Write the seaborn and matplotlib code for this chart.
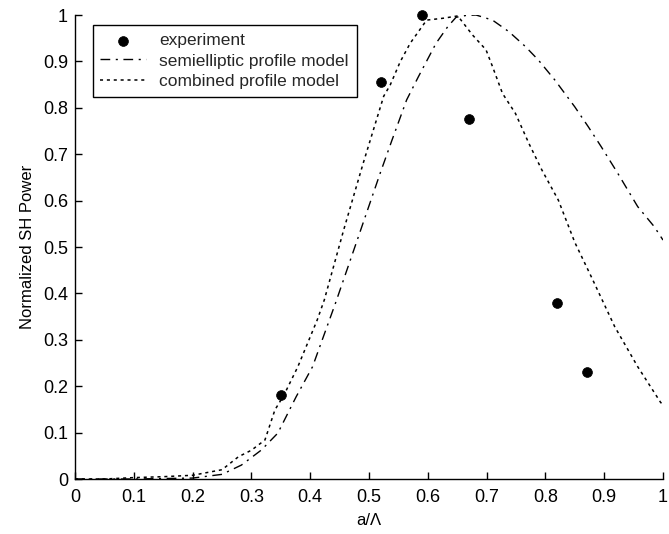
import matplotlib
matplotlib.use("Agg")
import matplotlib.pyplot as plt
import seaborn as sns

# Measured SH power
exp_x = [0.35, 0.52, 0.59, 0.67, 0.82, 0.87]
exp_y = [0.18, 0.855, 1.0, 0.775, 0.38, 0.23]

# Semielliptic profile model
semi_x = [0.0, 0.10, 0.20, 0.25, 0.283, 0.317, 0.345, 0.376, 0.404, 0.443, 0.48,
          0.519, 0.539, 0.564, 0.584, 0.614, 0.634, 0.648, 0.665, 0.682, 0.71,
          0.738, 0.766, 0.788, 0.816, 0.85, 0.873, 0.895, 0.923, 0.957, 0.985, 1.0]
semi_y = [0.0, 0.0, 0.002, 0.01, 0.03, 0.0625, 0.099, 0.177, 0.242, 0.379, 0.515,
          0.659, 0.73, 0.817, 0.867, 0.939, 0.975, 0.995, 0.999, 1.0, 0.989,
          0.964, 0.932, 0.903, 0.86, 0.802, 0.759, 0.716, 0.659, 0.587, 0.544, 0.515]

# Combined profile model
comb_x = [0.0, 0.05, 0.10, 0.15, 0.20, 0.25, 0.278, 0.30, 0.323, 0.34, 0.355, 0.379,
          0.412, 0.424, 0.457, 0.49, 0.525, 0.536, 0.553, 0.57, 0.598, 0.626,
          0.651, 0.676, 0.699, 0.71, 0.727, 0.749, 0.772, 0.794, 0.822, 0.85,
          0.878, 0.918, 0.957, 0.996, 1.0]
comb_y = [0.0, 0.0, 0.003, 0.005, 0.008, 0.02, 0.048, 0.062, 0.084, 0.149, 0.18, 0.242,
          0.343, 0.386, 0.537, 0.68, 0.825, 0.849, 0.899, 0.939, 0.989, 0.993,
          0.998, 0.957, 0.925, 0.889, 0.831, 0.788, 0.723, 0.666, 0.601, 0.51,
          0.436, 0.328, 0.242, 0.165, 0.16]

x_ticks = [0, 0.1, 0.2, 0.3, 0.4, 0.5, 0.6, 0.7, 0.8, 0.9, 1]
x_tick_labels = ["0", "0.1", "0.2", "0.3", "0.4", "0.5", "0.6", "0.7", "0.8", "0.9", "1"]
y_ticks = [0, 0.1, 0.2, 0.3, 0.4, 0.5, 0.6, 0.7, 0.8, 0.9, 1]
y_tick_labels = ["0", "0.1", "0.2", "0.3", "0.4", "0.5", "0.6", "0.7", "0.8", "0.9", "1"]

sns.set_theme(style="white")
plt.rcParams["font.family"] = ["Liberation Sans", "DejaVu Sans"]

fig = plt.figure(figsize=(6.69, 5.34), dpi=100)
ax = fig.add_axes([75 / 669, 1 - 479 / 534, 588 / 669, 464 / 534])

sns.scatterplot(x=exp_x, y=exp_y, ax=ax, color="black", s=50, edgecolor="black",
                linewidth=0.5, label="experiment", zorder=3, clip_on=False)
sns.lineplot(x=semi_x, y=semi_y, ax=ax, color="black", linewidth=1.0,
             linestyle=(0, (7, 4, 1.5, 4)), label="semielliptic profile model",
             sort=False, estimator=None)
sns.lineplot(x=comb_x, y=comb_y, ax=ax, color="black", linewidth=1.1,
             linestyle=(0, (2, 2.5)), label="combined profile model",
             sort=False, estimator=None)

ax.set_xlim(0, 1)
ax.set_ylim(0, 1)
ax.set_xticks(x_ticks)
ax.set_xticklabels(x_tick_labels)
ax.set_yticks(y_ticks)
ax.set_yticklabels(y_tick_labels)
ax.tick_params(direction="in", length=5, width=1, colors="black", labelsize=13,
               bottom=True, left=True, pad=5)
ax.tick_params(axis="x", pad=7)

for side in ["top", "right"]:
    ax.spines[side].set_visible(False)
for side in ["left", "bottom"]:
    ax.spines[side].set_color("black")
    ax.spines[side].set_linewidth(1.0)

ax.set_xlabel("a/\u039b", fontsize=12, color="black", labelpad=5)
ax.set_ylabel("Normalized SH Power", fontsize=12, color="black", labelpad=6)

leg = ax.legend(loc="upper left", bbox_to_anchor=(0.03, 0.978), fontsize=12.5,
                frameon=True, fancybox=False, edgecolor="black", framealpha=1,
                handlelength=2.6, borderpad=0.45, labelspacing=0.3,
                handletextpad=0.8, borderaxespad=0)
leg.get_frame().set_linewidth(1.0)

ax.grid(False)
fig.savefig("out.png", dpi=100)
